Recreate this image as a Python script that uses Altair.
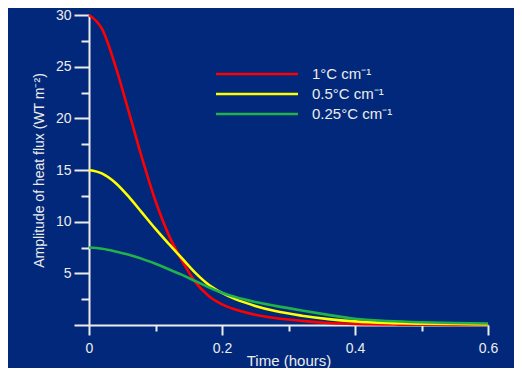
import altair as alt
import pandas as pd

# Time (hours)
time = [0, 0.02, 0.04, 0.06, 0.08, 0.10, 0.12, 0.14, 0.16, 0.18, 0.20,
        0.22, 0.25, 0.28, 0.32, 0.36, 0.40, 0.45, 0.50, 0.55, 0.60]

# Amplitude of heat flux (W m-2) for each gradient
red_1 = [30.0, 28.6, 25.0, 20.6, 16.1, 12.0, 8.7, 6.2, 4.15, 2.8, 2.0,
         1.5, 1.0, 0.68, 0.4, 0.2, 0.1, 0.05, 0.03, 0.01, 0.0]
yellow_05 = [15.0, 14.65, 13.75, 12.4, 10.85, 9.3, 7.85, 6.45, 5.05, 3.9, 3.1,
             2.5, 1.85, 1.35, 0.9, 0.57, 0.35, 0.2, 0.13, 0.09, 0.06]
green_025 = [7.5, 7.38, 7.12, 6.8, 6.4, 5.92, 5.4, 4.85, 4.25, 3.65, 3.12,
             2.7, 2.22, 1.85, 1.4, 0.98, 0.6, 0.38, 0.26, 0.19, 0.15]

series_names = ["1°C cm⁻¹", "0.5°C cm⁻¹", "0.25°C cm⁻¹"]
series_colors = ["#ff0000", "#ffff00", "#22b24c"]

x_major = [0, 0.2, 0.4, 0.6]
x_minor = [0.1, 0.3, 0.5]
y_major = [0, 5, 10, 15, 20, 25, 30]
y_minor = [2.5, 7.5, 12.5, 17.5, 22.5, 27.5]

rows = []
for name, vals in zip(series_names, [red_1, yellow_05, green_025]):
    for t, v in zip(time, vals):
        rows.append({"t": t, "v": v, "series": name})
df = pd.DataFrame(rows)

FG = "#ececec"
FONT = "Liberation Sans"

xscale = alt.Scale(domain=[0, 0.6], nice=False, zero=False)
yscale = alt.Scale(domain=[0, 30], nice=False)

main = alt.Chart(df).mark_line(strokeWidth=2.6, interpolate="monotone").encode(
    x=alt.X("t:Q", scale=xscale,
            axis=alt.Axis(values=x_major, title="Time (hours)", orient="bottom",
                          tickSize=10, tickWidth=2, domainWidth=2, labelPadding=6,
                          titleFontSize=15, labelFontSize=14, labelFlush=False,
                          titleY=43, titleBaseline="bottom",
                          labelExpr="datum.value == 0 ? '0' : format(datum.value, '.1f')")),
    y=alt.Y("v:Q", scale=yscale,
            axis=alt.Axis(values=y_major, title="Amplitude of heat flux  (WT m⁻²)",
                          orient="left", tickSize=15, tickWidth=2, domainWidth=2,
                          labelPadding=3, titlePadding=9, titleFontSize=14,
                          labelFontSize=14, labelFlush=False,
                          labelExpr="datum.value == 0 ? '' : datum.label")),
    color=alt.Color("series:N",
                    scale=alt.Scale(domain=series_names, range=series_colors),
                    sort=series_names,
                    legend=alt.Legend(title=None, orient="none", legendX=156, legendY=47,
                                      symbolType="M-4,0H4", symbolSize=420,
                                      symbolStrokeWidth=2.6, labelFontSize=15,
                                      labelColor=FG, labelFont=FONT, labelOffset=43,
                                      rowPadding=0)),
    detail="series:N",
)

minor = alt.Chart(df).mark_line(opacity=0).encode(
    x=alt.X("t:Q", scale=xscale,
            axis=alt.Axis(values=x_minor, title=None, orient="bottom", labels=False,
                          domain=False, tickSize=6, tickWidth=2)),
    y=alt.Y("v:Q", scale=yscale,
            axis=alt.Axis(values=y_minor, title=None, orient="left", labels=False,
                          domain=False, tickSize=8, tickWidth=2)),
    detail="series:N",
)

chart = alt.layer(main, minor).resolve_axis(x="independent", y="independent").properties(
    width=399, height=310,
    autosize=alt.AutoSizeParams(type="none"),
    padding={"left": 81, "top": 7, "right": 26, "bottom": 43},
    background="#01287a",
).configure_view(stroke=None).configure_axis(
    domainColor=FG, tickColor=FG, labelColor=FG, titleColor=FG,
    labelFont=FONT, titleFont=FONT, titleFontWeight="normal", grid=False,
)

chart.save("out.html", embed_options={"renderer": "svg", "actions": False})
